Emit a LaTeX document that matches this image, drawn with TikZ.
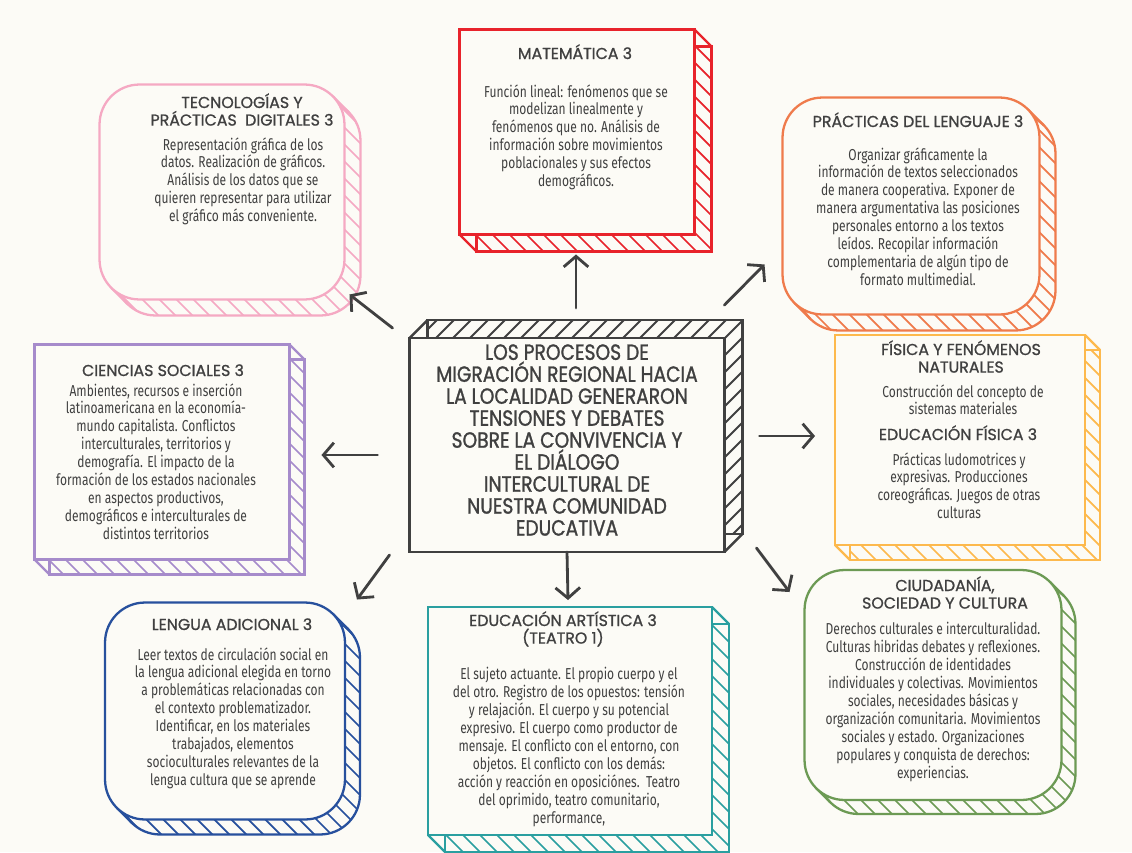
\documentclass[tikz,border=0pt]{standalone}
\usepackage{fontspec}
\usetikzlibrary{arrows.meta,positioning}
\newfontfamily\bodyfont[FakeStretch=0.76]{Fira Sans}
\newfontfamily\headfont[FakeBold=1]{Poppins}
\newfontfamily\centfont[FakeStretch=0.85,FakeBold=1.2]{Poppins}
\newcommand{\tightlines}{\setlength{\lineskiplimit}{-6pt}}
\definecolor{paper}{HTML}{FCFBF6}
\definecolor{ink}{HTML}{404040}
\definecolor{pinkc}{HTML}{F5A9C3}
\definecolor{redc}{HTML}{E8232B}
\definecolor{orangec}{HTML}{EF7B4C}
\definecolor{purplec}{HTML}{A68BCB}
\definecolor{yellowc}{HTML}{FDB94D}
\definecolor{bluec}{HTML}{27509D}
\definecolor{tealc}{HTML}{2A9FA0}
\definecolor{greenc}{HTML}{6C9A54}
\tikzset{
  panel/.style={rectangle, inner sep=0pt, outer sep=0pt},
  txt/.style={font=\bodyfont\fontsize{9}{10.2}\selectfont, text=ink, align=center, inner sep=0pt, anchor=north},
  ttl/.style={font=\headfont\fontsize{9}{10}\selectfont, text=ink, align=center, inner sep=0pt, anchor=north},
  bigttl/.style={font=\centfont\fontsize{12.5}{12.5}\selectfont\tightlines, text=ink, align=center, inner sep=0pt, anchor=north},
  arr/.style={draw=ink, line width=1.6pt, line cap=round, -{Straight Barb[length=6pt,width=14pt]}}
}
% box with hatched depth: node, colour, corner radius (px), depth (px)
\newcommand{\sketchbox}[4]{%
  \draw[#2, line width=1.3pt, fill=paper, rounded corners=#3*0.02cm]
    ([shift={(#4,#4)}]#1.north west) rectangle ([shift={(#4,#4)}]#1.south east);
  \begin{scope}
    \clip[rounded corners=#3*0.02cm] ([shift={(#4,#4)}]#1.north west) rectangle ([shift={(#4,#4)}]#1.south east);
    \foreach \hh in {-306,-289,...,306}
      \draw[#2, line width=1pt] ([shift={(\hh-260,-260)}]#1.center) -- ++(520,520);
  \end{scope}
  \draw[#2, line width=1.3pt] ([shift={(-0.2929*#3,0.2929*#3)}]#1.north east) -- ++(#4,#4);
  \draw[#2, line width=1.3pt] ([shift={(0.2929*#3,-0.2929*#3)}]#1.south west) -- ++(#4,#4);
  \draw[#2, line width=1.3pt, fill=paper, rounded corners=#3*0.02cm]
    (#1.north west) rectangle (#1.south east);
}

\begin{document}
\begin{tikzpicture}[x=0.02cm,y=-0.02cm]
  \fill[paper] (0,0) rectangle (1132,852);
  \useasboundingbox (0,0) rectangle (1132,852);

  % the boxes
  \node[panel, minimum width=4.9cm, minimum height=4.3cm] (tec) at (222,192) {};
  \node[panel, minimum width=4.7cm, minimum height=4.1cm] (mat) at (577,132) {};
  \node[panel, minimum width=5.14cm, minimum height=4.34cm] (pra) at (911,206) {};
  \node[panel, minimum width=5.1cm, minimum height=4.3cm] (cie) at (162,452) {};
  \node[panel, minimum width=6.3cm, minimum height=4.28cm] (cen) at (567,445) {};
  \node[panel, minimum width=5.0cm, minimum height=4.2cm] (fis) at (960,440) {};
  \node[panel, minimum width=4.8cm, minimum height=4.34cm] (len) at (225,711) {};
  \node[panel, minimum width=5.68cm, minimum height=4.56cm] (art) at (570,721) {};
  \node[panel, minimum width=5.14cm, minimum height=4.6cm] (ciu) at (933,685) {};

  \sketchbox{tec}{pinkc}{40}{16}
  \sketchbox{mat}{redc}{0}{17}
  \sketchbox{pra}{orangec}{40}{16}
  \sketchbox{cie}{purplec}{0}{15}
  \sketchbox{fis}{yellowc}{0}{15}
  \sketchbox{len}{bluec}{40}{15}
  \sketchbox{art}{tealc}{0}{17}
  \sketchbox{ciu}{greenc}{40}{14}

  % centre box, depth on top
  \draw[ink, line width=1.4pt, fill=paper] ([shift={(18,-18)}]cen.north west) rectangle ([shift={(18,-18)}]cen.south east);
  \begin{scope}
    \clip ([shift={(18,-18)}]cen.north west) rectangle ([shift={(18,-18)}]cen.south east);
    \foreach \hh in {-323,-306,...,323}
      \draw[ink, line width=1.1pt] ([shift={(\hh-260,260)}]cen.center) -- ++(520,-520);
  \end{scope}
  \draw[ink, line width=1.4pt] (cen.north west) -- ++(18,-18) (cen.south east) -- ++(18,-18);
  \draw[ink, line width=1.6pt, fill=paper] (cen.north west) rectangle (cen.south east);

  % texts
  \node[ttl] (tec-h) at (242,93) {TECNOLOGÍAS Y\\PRÁCTICAS\ \ DIGITALES 3};
  \node[txt] (tec-b) at (243,137) {Representación gráfica de los\\datos. Realización de gráficos.\\Análisis de los datos que se\\quieren representar para utilizar\\el gráfico más conveniente.};

  \node[ttl] (mat-h) at (575,44) {MATEMÁTICA 3};
  \node[txt] (mat-b) at (576,84) {Función lineal: fenómenos que se\\modelizan linealmente y\\fenómenos que no. Análisis de\\información sobre movimientos\\poblacionales y sus efectos\\demográficos.};

  \node[ttl] (pra-h) at (918,112) {PRÁCTICAS DEL LENGUAJE 3};
  \node[txt] (pra-b) at (918,147) {Organizar gráficamente la\\información de textos seleccionados\\de manera cooperativa. Exponer de\\manera argumentativa las posiciones\\personales entorno a los textos\\leídos. Recopilar información\\complementaria de algún tipo de\\formato multimedial.};

  \node[ttl] (cie-h) at (163,364) {CIENCIAS SOCIALES 3};
  \node[txt] (cie-b) at (156,383) {Ambientes, recursos e inserción\\latinoamericana en la economía-\\mundo capitalista. Conflictos\\interculturales, territorios y\\demografía. El impacto de la\\formación de los estados nacionales\\en aspectos productivos,\\demográficos e interculturales de\\distintos territorios};

  \node[bigttl] (cen-t) at (567,344) {LOS PROCESOS DE\\MIGRACIÓN REGIONAL HACIA\\LA LOCALIDAD GENERARON\\TENSIONES Y DEBATES\\SOBRE LA CONVIVENCIA Y\\EL DIÁLOGO\\INTERCULTURAL DE\\NUESTRA COMUNIDAD\\EDUCATIVA};

  \node[ttl] (fis-h) at (961,340) {FÍSICA Y FENÓMENOS\\NATURALES};
  \node[txt] (fis-b) at (963,384) {Construcción del concepto de\\sistemas materiales};
  \node[ttl] (efi-h) at (958,425) {EDUCACIÓN FÍSICA 3};
  \node[txt] (efi-b) at (959,452) {Prácticas ludomotrices y\\expresivas. Producciones\\coreográficas. Juegos de otras\\culturas};

  \node[ttl] (len-h) at (232,618) {LENGUA ADICIONAL 3};
  \node[txt] (len-b) at (233,647) {Leer textos de circulación social en\\la lengua adicional elegida en torno\\a problemáticas relacionadas con\\el contexto problematizador.\\Identificar, en los materiales\\trabajados, elementos\\socioculturales relevantes de la\\lengua cultura que se aprende};

  \node[ttl] (art-h) at (563,611) {EDUCACIÓN ARTÍSTICA 3\\(TEATRO 1)};
  \node[txt] (art-b) at (569,667) {El sujeto actuante. El propio cuerpo y el\\del otro. Registro de los opuestos: tensión\\y relajación. El cuerpo y su potencial\\expresivo. El cuerpo como productor de\\mensaje. El conflicto con el entorno, con\\objetos. El conflicto con los demás:\\acción y reacción en oposiciónes.\ \ Teatro\\del oprimido, teatro comunitario,\\performance,};

  \node[ttl] (ciu-h) at (945,576) {CIUDADANÍA,\\SOCIEDAD Y CULTURA};
  \node[txt] (ciu-b) at (933,622) {Derechos culturales e interculturalidad.\\Culturas hibridas debates y reflexiones.\\Construcción de identidades\\individuales y colectivas. Movimientos\\sociales, necesidades básicas y\\organización comunitaria. Movimientos\\sociales y estado. Organizaciones\\populares y conquista de derechos:\\experiencias.};

  % arrows out of the centre
  \draw[arr] ([shift={(-17,-10)}]cen.north west) -- ([shift={(5,-5)}]tec.south east);
  \draw[arr] ([shift={(9,-30)}]cen.north) -- ([shift={(-1,20)}]mat.south);
  \draw[arr] ([shift={(0,-33)}]cen.north east) -- ([shift={(-18,-50)}]pra.south west);
  \draw[arr] ([shift={(-32,10)}]cen.west) -- ([shift={(32,3)}]cie.east);
  \draw[arr] ([shift={(35,-9)}]cen.east) -- ([shift={(-20,-4)}]fis.west);
  \draw[arr] ([shift={(-20,3)}]cen.south west) -- ([shift={(12,-3)}]len.north east);
  \draw[arr] (cen.south) -- ([shift={(-2,-7)}]art.north);
  \draw[arr] ([shift={(32,-4)}]cen.south east) -- ([shift={(-15,22)}]ciu.north west);
\end{tikzpicture}
\end{document}
